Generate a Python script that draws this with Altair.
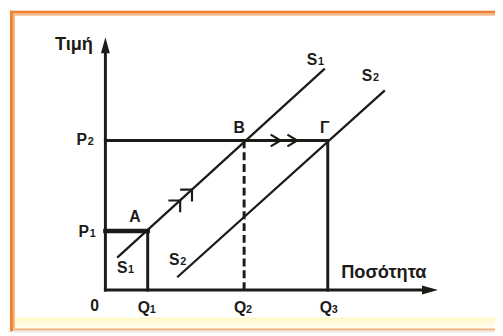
import altair as alt
import pandas as pd

# ---------------- data (economic units) ----------------
Q_NAMES = ["Q1", "Q2", "Q3"]
Q_VALUES = [4.3, 14.1, 22.6]
P_NAMES = ["P1", "P2"]
P_VALUES = [6.0, 15.2]

S1_Q = [1.2, 22.3]
S1_P = [3.3, 22.5]
S2_Q = [7.3, 28.4]
S2_P = [1.3, 20.3]

AXIS_Q_END = 33.8
AXIS_P_END = 25.7

# direction marks along S1 (from A to B) and along P2 (from B to Γ)
S1_ARROW_Q = [7.6, 8.8]
S1_ARROW_P = [9.1, 10.2]
P2_ARROW_Q = [17.8, 19.5]

# labels: main letter, subscript, anchor (quantity, price)
LET_MAIN = ["P", "P", "0", "Q", "Q", "Q", "A", "B", "Γ", "S", "S", "S", "S"]
LET_SUB = ["2", "1", "", "1", "2", "3", "", "", "", "1", "2", "1", "2"]
LET_Q = [-2.4, -2.2, -1.1, 3.9, 13.7, 22.4, 3.0, 13.6, 22.3, 21.0, 26.6, 1.7, 7.0]
LET_P = [14.7, 5.4, -2.1, -2.3, -2.3, -2.3, 6.9, 16.0, 16.0, 22.9, 21.2, 1.7, 2.5]

WORDS = ["Τιμή", "Ποσότητα"]
WORD_Q = [-3.2, 28.3]
WORD_P = [24.4, 1.2]

# ---------------- layout / style ----------------
W, H = 495, 326
ORIGIN_X, ORIGIN_Y, PX = 99, 284, 10.0
INK = "#1d1b18"
YELLOW = "#fff8c6"
ORANGE = "#ef8231"
PEACH = "#f6b07a"
FONT = "Liberation Sans"

xs = alt.Scale(domain=[-ORIGIN_X / PX, (W - ORIGIN_X) / PX], nice=False, zero=False)
ys = alt.Scale(domain=[-(H - ORIGIN_Y) / PX, ORIGIN_Y / PX], nice=False, zero=False)


def X(f):
    return alt.X(f, type="quantitative", scale=xs, axis=None)


def Y(f):
    return alt.Y(f, type="quantitative", scale=ys, axis=None)


Q = dict(zip(Q_NAMES, Q_VALUES))
P = dict(zip(P_NAMES, P_VALUES))

# guide segments built from the levels
seg = pd.DataFrame([
    {"q": 0, "q2": Q["Q1"], "p": P["P1"], "p2": P["P1"], "kind": "thick"},
    {"q": Q["Q1"], "q2": Q["Q1"], "p": P["P1"], "p2": 0, "kind": "solid"},
    {"q": 0, "q2": Q["Q3"], "p": P["P2"], "p2": P["P2"], "kind": "solid"},
    {"q": Q["Q3"], "q2": Q["Q3"], "p": P["P2"], "p2": 0, "kind": "solid"},
    {"q": Q["Q2"], "q2": Q["Q2"], "p": P["P2"], "p2": 0, "kind": "dashed"},
])
axes = pd.DataFrame([
    {"q": 0, "q2": 0, "p": 0, "p2": AXIS_P_END - 1.2},
    {"q": 0, "q2": AXIS_Q_END - 1.2, "p": 0, "p2": 0},
])
supply = pd.DataFrame({
    "q": [S1_Q[0], S2_Q[0]], "q2": [S1_Q[1], S2_Q[1]],
    "p": [S1_P[0], S2_P[0]], "p2": [S1_P[1], S2_P[1]],
})

one = pd.DataFrame({"a": [0]})

# frame decoration
frame = [
    alt.Chart(one).mark_rule(color="white", strokeWidth=2).encode(
        x=alt.value(1), y=alt.value(0), y2=alt.value(H)),
    alt.Chart(one).mark_rect(color=alt.LinearGradient(
        gradient="linear", x1=0, x2=0, y1=0, y2=1,
        stops=[alt.GradientStop(color=YELLOW, offset=0),
               alt.GradientStop(color="#fffdf3", offset=1)])).encode(
        x=alt.value(7), x2=alt.value(W), y=alt.value(312), y2=alt.value(323)),
    alt.Chart(one).mark_rule(color=ORANGE, strokeWidth=3).encode(
        x=alt.value(3.5), y=alt.value(0), y2=alt.value(H)),
    alt.Chart(one).mark_rule(color=PEACH, strokeWidth=2).encode(
        x=alt.value(6), y=alt.value(3), y2=alt.value(323)),
    alt.Chart(one).mark_rule(color=ORANGE, strokeWidth=3).encode(
        x=alt.value(2), x2=alt.value(W), y=alt.value(1.5)),
    alt.Chart(one).mark_rule(color=PEACH, strokeWidth=2).encode(
        x=alt.value(5), x2=alt.value(W), y=alt.value(4)),
    alt.Chart(one).mark_rule(color=PEACH, strokeWidth=2).encode(
        x=alt.value(5), x2=alt.value(W), y=alt.value(324)),
]

axis_rules = alt.Chart(axes).mark_rule(color=INK, strokeWidth=3, strokeCap="square").encode(
    x=X("q"), x2="q2", y=Y("p"), y2="p2")

y_head = alt.Chart(pd.DataFrame({"q": [0], "p": [AXIS_P_END]})).mark_point(
    shape="M0,0L0.5,1.8L-0.5,1.8Z", size=324, filled=True, color=INK, opacity=1,
    strokeWidth=0).encode(x=X("q"), y=Y("p"))
x_head = alt.Chart(pd.DataFrame({"q": [AXIS_Q_END], "p": [0]})).mark_point(
    shape="M0,0L-1.8,-0.5L-1.8,0.5Z", size=324, filled=True, color=INK, opacity=1,
    strokeWidth=0).encode(x=X("q"), y=Y("p"))

seg_thick = alt.Chart(seg[seg.kind == "thick"]).mark_rule(
    color=INK, strokeWidth=4.5, strokeCap="square").encode(
    x=X("q"), x2="q2", y=Y("p"), y2="p2")
seg_solid = alt.Chart(seg[seg.kind == "solid"]).mark_rule(
    color=INK, strokeWidth=3, strokeCap="square").encode(
    x=X("q"), x2="q2", y=Y("p"), y2="p2")
seg_dash = alt.Chart(seg[seg.kind == "dashed"]).mark_rule(
    color=INK, strokeWidth=3, strokeDash=[8, 4]).encode(
    x=X("q"), x2="q2", y=Y("p"), y2="p2")

supply_lines = alt.Chart(supply).mark_rule(color=INK, strokeWidth=2.3).encode(
    x=X("q"), x2="q2", y=Y("p"), y2="p2")

s1_arrows = alt.Chart(pd.DataFrame({"q": S1_ARROW_Q, "p": S1_ARROW_P})).mark_point(
    shape="M-1,0L0,0L0,1", size=576, filled=False, color=INK, opacity=1,
    strokeWidth=2.2).encode(x=X("q"), y=Y("p"))
p2_arrows = alt.Chart(pd.DataFrame({"q": P2_ARROW_Q, "p": [P["P2"]] * 2})).mark_point(
    shape="M-1,-0.6L0,0L-1,0.6", size=400, filled=False, color=INK, opacity=1,
    strokeWidth=2.2).encode(x=X("q"), y=Y("p"))

letters = pd.DataFrame({"t": LET_MAIN, "s": LET_SUB, "q": LET_Q, "p": LET_P})
let_main = alt.Chart(letters).mark_text(
    font=FONT, fontSize=16, fontWeight="bold", color=INK, align="center",
    baseline="alphabetic").encode(x=X("q"), y=Y("p"), text="t:N")
let_sub = alt.Chart(letters).mark_text(
    font=FONT, fontSize=11, fontWeight="bold", color=INK, align="left",
    baseline="alphabetic", dx=6).encode(x=X("q"), y=Y("p"), text="s:N")

words = alt.Chart(pd.DataFrame({"t": WORDS, "q": WORD_Q, "p": WORD_P})).mark_text(
    font=FONT, fontSize=18.5, fontWeight="bold", color=INK, align="center",
    baseline="alphabetic").encode(x=X("q"), y=Y("p"), text="t:N")

chart = alt.layer(
    *frame, supply_lines, seg_dash, seg_solid, seg_thick, axis_rules,
    y_head, x_head, s1_arrows, p2_arrows, let_main, let_sub, words,
).properties(
    width=W, height=H, padding=0, autosize=alt.AutoSizeParams(type="none"),
).configure_view(fill=YELLOW, stroke="transparent").configure(background="white")

chart.save("out.html", embed_options={"renderer": "svg", "actions": False})
